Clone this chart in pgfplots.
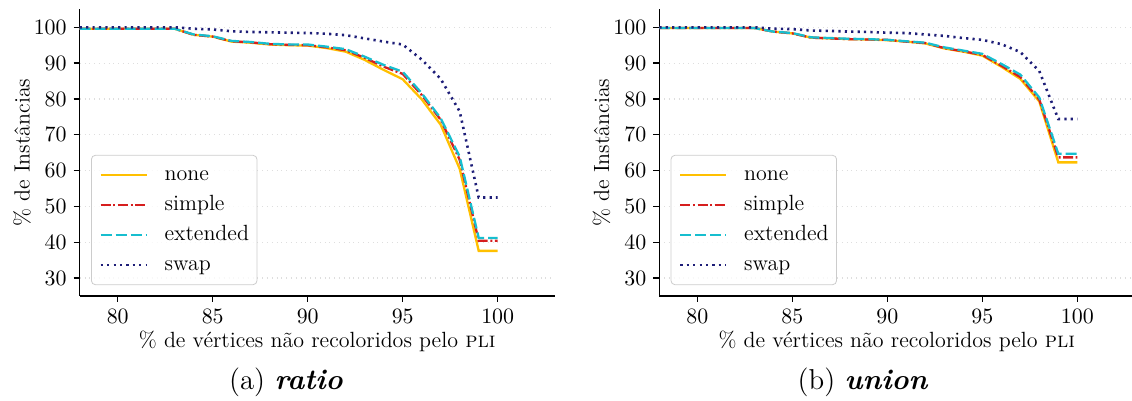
\documentclass[border=0pt]{standalone}
\usepackage{pgfplots}
\usepackage{pgfplotstable}
\pgfplotsset{compat=1.18}
\definecolor{cnone}{RGB}{255,192,0}
\definecolor{csimple}{RGB}{214,30,30}
\definecolor{cext}{RGB}{23,190,207}
\definecolor{cswap}{RGB}{30,30,120}
\definecolor{cgrid}{RGB}{222,222,222}

\pgfplotstableread{
x none simple extended swap
78 99.6 99.6 99.6 100.0
79 99.6 99.6 99.6 100.0
80 99.6 99.6 99.6 100.0
81 99.6 99.6 99.6 100.0
82 99.6 99.6 99.6 100.0
83 99.6 99.6 99.6 100.0
84 97.9 97.9 98.0 99.6
85 97.4 97.4 97.5 99.4
86 96.0 96.1 96.2 98.9
87 95.7 95.8 95.9 98.7
88 95.2 95.3 95.4 98.6
89 95.0 95.1 95.2 98.5
90 94.9 95.0 95.2 98.4
91 94.2 94.4 94.6 98.2
92 93.2 93.6 93.9 97.8
93 90.9 91.5 91.8 96.9
94 88.1 89.0 89.5 96.0
95 85.5 87.0 87.6 95.2
96 79.9 81.1 81.6 91.0
97 72.8 74.2 74.6 85.6
98 60.5 63.0 63.9 76.5
99 37.6 40.4 41.2 52.5
100 37.6 40.4 41.2 52.5
}\ratiodata

\pgfplotstableread{
x none simple extended swap
78 99.8 99.8 99.8 100.0
79 99.8 99.8 99.8 100.0
80 99.8 99.8 99.8 100.0
81 99.8 99.8 99.8 100.0
82 99.8 99.8 99.8 100.0
83 99.8 99.8 99.8 100.0
84 98.8 98.8 98.8 99.6
85 98.3 98.3 98.4 99.5
86 97.1 97.1 97.2 99.1
87 96.9 96.9 97.0 99.0
88 96.7 96.7 96.8 98.8
89 96.6 96.6 96.7 98.7
90 96.4 96.5 96.5 98.5
91 96.0 96.0 96.1 98.4
92 95.5 95.6 95.7 98.0
93 94.1 94.2 94.4 97.6
94 93.2 93.3 93.5 97.0
95 92.1 92.3 92.6 96.5
96 89.0 89.3 89.8 95.3
97 85.6 86.1 86.8 93.1
98 79.3 79.8 80.4 87.8
99 62.3 63.7 64.7 74.4
100 62.3 63.7 64.7 74.4
}\uniondata

\pgfplotsset{
  mystyle/.style={
    scale only axis, width=237.5pt, height=143.3pt,
    xmin=78, xmax=103, ymin=25, ymax=105,
    axis x line*=bottom, axis y line*=left,
    axis line style={line width=0.65pt},
    xtick={80,85,90,95,100}, ytick={30,40,...,100},
    tick align=outside, major tick length=3pt,
    tick style={line width=0.65pt, black},
    ymajorgrids, major grid style={dotted, cgrid, line width=0.6pt},
    tick label style={font=\fontsize{11}{13}\selectfont},
    label style={font=\fontsize{11}{13}\selectfont},
    xlabel={\% de vértices não recoloridos pelo \textsc{pli}},
    ylabel={\% de Instâncias},
    xlabel style={at={(axis description cs:0.5,-0.178)}, anchor=base},
    ylabel style={at={(axis description cs:-0.1217,0.5)}, anchor=center},
    legend style={at={(rel axis cs:0.0238,0.038)}, anchor=south west,
      draw=black!20, rounded corners=2pt, fill=white, fill opacity=0.8,
      text opacity=1, font=\fontsize{11}{13}\selectfont,
      inner xsep=4pt, inner ysep=4.85pt, row sep=5pt, column sep=8.3pt,
      nodes={inner sep=0pt, text height=7.5pt, text depth=2.5pt, anchor=west}},
    legend cell align=left,
    legend image code/.code={\draw[#1] (0pt,0pt) -- (23pt,0pt);},
    every axis plot/.append style={line width=1.15pt},
  },
  pnone/.style={cnone, solid},
  psimple/.style={csimple, dash pattern=on 5pt off 1.3pt on 1pt off 1.3pt},
  pext/.style={cext, dash pattern=on 5.5pt off 2pt},
  pswap/.style={cswap, line width=1.3pt, dash pattern=on 1.1pt off 2.1pt},
}

\begin{document}
\begin{tikzpicture}
\begin{axis}[mystyle, at={(39.85pt,52.5pt)}, anchor=south west]
\addplot[pnone] table[x=x,y=none]{\ratiodata}; \addlegendentry{none}
\addplot[psimple] table[x=x,y=simple]{\ratiodata}; \addlegendentry{simple}
\addplot[pext] table[x=x,y=extended]{\ratiodata}; \addlegendentry{extended}
\addplot[pswap] table[x=x,y=swap]{\ratiodata}; \addlegendentry{swap}
\end{axis}
\begin{axis}[mystyle, at={(329.65pt,52.5pt)}, anchor=south west]
\addplot[pnone] table[x=x,y=none]{\uniondata}; \addlegendentry{none}
\addplot[psimple] table[x=x,y=simple]{\uniondata}; \addlegendentry{simple}
\addplot[pext] table[x=x,y=extended]{\uniondata}; \addlegendentry{extended}
\addplot[pswap] table[x=x,y=swap]{\uniondata}; \addlegendentry{swap}
\end{axis}
\node[font=\fontsize{14.4}{17}\selectfont, anchor=base] at (143pt,5.5pt) {(a) \textbf{\textit{ratio}}};
\node[font=\fontsize{14.4}{17}\selectfont, anchor=base] at (431.5pt,5.5pt) {(b) \textbf{\textit{union}}};
\pgfresetboundingbox
\useasboundingbox (0pt,0pt) rectangle (566pt,200.5pt);
\end{tikzpicture}
\end{document}
